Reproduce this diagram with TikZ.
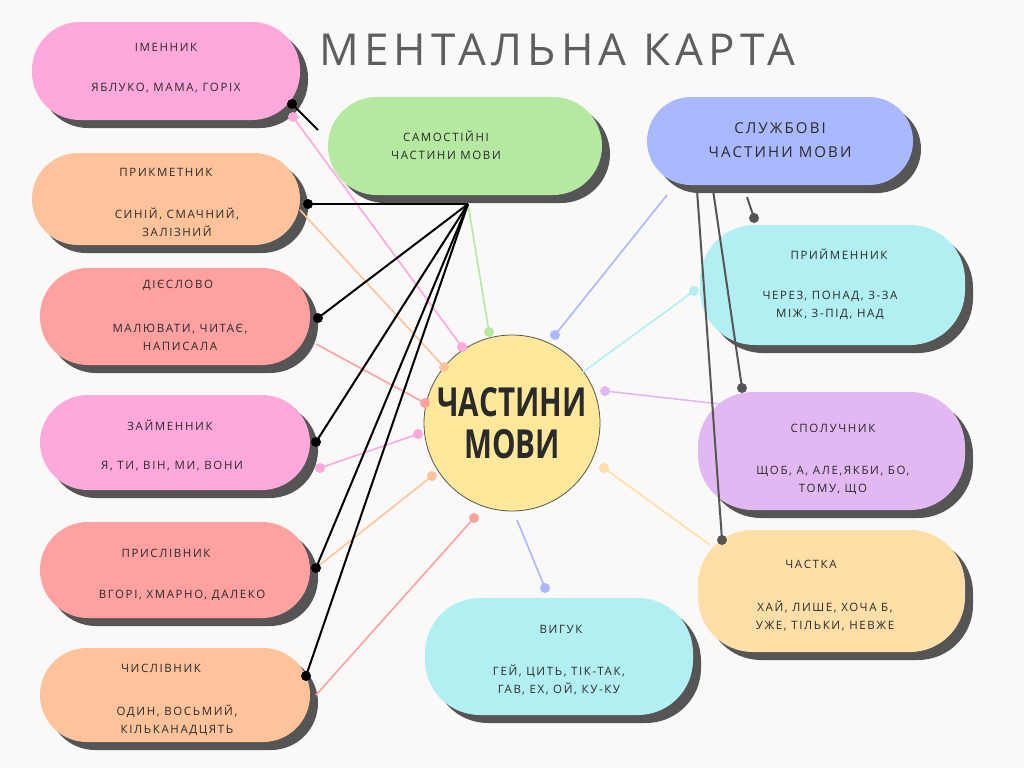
\documentclass[tikz,border=0pt]{standalone}
\usepackage{fontspec}
\setmainfont{Open Sans}
\newfontfamily\boxfnt{Open Sans}[LetterSpace=14]
\newfontfamily\ttl{Open Sans}[LetterSpace=12]
\usetikzlibrary{shadows}
\definecolor{bg}{HTML}{FAF9F8}
\definecolor{sh}{HTML}{555555}
\definecolor{cpink}{HTML}{FFA8DC}
\definecolor{cgreen}{HTML}{B5E8A0}
\definecolor{cblue}{HTML}{A9B8FF}
\definecolor{cpeach}{HTML}{FFC39C}
\definecolor{csalm}{HTML}{FFA1A1}
\definecolor{ccyan}{HTML}{B2EFF2}
\definecolor{clav}{HTML}{E2B8F2}
\definecolor{corng}{HTML}{FFDEA8}
\definecolor{cyel}{HTML}{FFE89A}
\definecolor{txt}{HTML}{2A2A2A}
\begin{document}
\begin{tikzpicture}[x=1pt,y=-1pt,
  pill/.style={draw=none,rounded corners=#1,drop shadow={shadow xshift=8pt,shadow yshift=-8pt,fill=sh,opacity=1}},
  lbl/.style={font=\boxfnt\fontsize{11.5}{18}\selectfont,text=txt,align=center},
  dotline/.style={line width=1.6pt}]
\fill[bg] (0,0) rectangle (1024,768);
\useasboundingbox (0,0) rectangle (1024,768);
\node[font=\ttl\fontsize{44}{50}\selectfont,text=sh!95] (title) at (557,50) {МЕНТАЛЬНА КАРТА};
% boxes
\fill[cpink,pill=48] (32,22) rectangle (300,120);
\fill[cgreen,pill=49] (328,97) rectangle (602,195);
\fill[cblue,pill=44] (647,97) rectangle (913,185);
\fill[cpeach,pill=46] (32,153) rectangle (300,245);
\fill[csalm,pill=48] (40,268) rectangle (310,365);
\fill[cpink,pill=48] (40,395) rectangle (310,490);
\fill[csalm,pill=48] (40,522) rectangle (310,618);
\fill[cpeach,pill=47] (40,648) rectangle (310,742);
\fill[ccyan,pill=55] (700,225) rectangle (965,345);
\fill[clav,pill=55] (698,392) rectangle (965,510);
\fill[corng,pill=55] (698,530) rectangle (965,652);
\fill[ccyan,pill=55] (425,598) rectangle (693,715);
% texts
\node[lbl] (t1) at (166,47) {ІМЕННИК};
\node[lbl] (t1b) at (166,88) {ЯБЛУКО, МАМА, ГОРІХ};
\node[lbl] (t2) at (446,145) {САМОСТІЙНІ\\ЧАСТИНИ МОВИ};
\node[lbl,font=\boxfnt\fontsize{15}{24}\selectfont] (t3) at (780,140) {СЛУЖБОВІ\\ЧАСТИНИ МОВИ};
\node[lbl] (t4) at (166,172) {ПРИКМЕТНИК};
\node[lbl] (t4b) at (177,222) {СИНІЙ, СМАЧНИЙ,\\ЗАЛІЗНИЙ};
\node[lbl] (t5) at (178,285) {ДІЄСЛОВО};
\node[lbl] (t5b) at (180,337) {МАЛЮВАТИ, ЧИТАЄ,\\НАПИСАЛА};
\node[lbl] (t6) at (170,425) {ЗАЙМЕННИК};
\node[lbl] (t6b) at (172,466) {Я, ТИ, ВІН, МИ, ВОНИ};
\node[lbl] (t7) at (166,553) {ПРИСЛІВНИК};
\node[lbl] (t7b) at (182,595) {ВГОРІ, ХМАРНО, ДАЛЕКО};
\node[lbl] (t8) at (161,668) {ЧИСЛІВНИК};
\node[lbl] (t8b) at (177,720) {ОДИН, ВОСЬМИЙ,\\КІЛЬКАНАДЦЯТЬ};
\node[lbl] (t9) at (839,254) {ПРИЙМЕННИК};
\node[lbl] (t9b) at (830,305) {ЧЕРЕЗ, ПОНАД, З-ЗА\\МІЖ, З-ПІД, НАД};
\node[lbl] (t10) at (833,428) {СПОЛУЧНИК};
\node[lbl] (t10b) at (833,480) {ЩОБ, А, АЛЕ,ЯКБИ, БО,\\ТОМУ, ЩО};
\node[lbl] (t11) at (811,564) {ЧАСТКА};
\node[lbl] (t11b) at (825,616) {ХАЙ, ЛИШЕ, ХОЧА Б,\\УЖЕ, ТІЛЬКИ, НЕВЖЕ};
\node[lbl] (t12) at (561,629) {ВИГУК};
\node[lbl] (t12b) at (559,680) {ГЕЙ, ЦИТЬ, ТІК-ТАК,\\ГАВ, ЕХ, ОЙ, КУ-КУ};
% center
\node[circle,fill=cyel,draw=sh,line width=0.8pt,minimum size=176pt,inner sep=0pt] (c) at (512,423) {};
\node[font=\bfseries\fontsize{40}{42}\selectfont,text=txt,align=center] (ct) at (512,423) {\scalebox{0.74}[1]{ЧАСТИНИ}\\\scalebox{0.74}[1]{МОВИ}};
% coordinates
\coordinate (hub) at (468,204);
\foreach \n/\x/\y in {b1/308/204,b2/318/318,b3/316/442,b4/316/568,b5/306/676,
  k1a/292/104,k1b/318/130,
  p1a/293/117,p1b/462/347, g1/489/332, a1/300/210,a1e/444/367,
  s1/316/344,s1e/425/403, p2a/320/468,p2b/418/434, a2e/432/476,
  s2a/316/695,s2e/474/518, u1a/667/195,u1b/555/335, y1a/583/372,y1b/694/291,
  l1a/605/391,l1b/720/404, o1a/604/468,o1b/710/545, v1a/517/520,v1b/545/588,
  d1a/697/190,d1b/722/540, d2a/713/190,d2b/742/388, d3a/747/197,d3b/754/218}
  {\coordinate (\n) at (\x,\y);}
% colored lines
\draw[cpink,dotline] (p1a) -- (p1b); \fill[cpink] (p1a) circle(5) (p1b) circle(5);
\draw[cgreen,dotline] (hub) -- (g1); \fill[cgreen] (g1) circle(5);
\draw[cpeach,dotline] (a1) -- (a1e); \fill[cpeach] (a1e) circle(5);
\draw[csalm,dotline] (s1) -- (s1e); \fill[csalm] (s1e) circle(5);
\draw[cpink,dotline] (p2a) -- (p2b); \fill[cpink] (p2a) circle(5) (p2b) circle(5);
\draw[cpeach,dotline] (b4) -- (a2e); \fill[cpeach] (a2e) circle(5);
\draw[csalm,dotline] (s2a) -- (s2e); \fill[csalm] (s2e) circle(5);
\draw[cblue,dotline] (u1a) -- (u1b); \fill[cblue] (u1b) circle(5);
\draw[ccyan,dotline] (y1a) -- (y1b); \fill[ccyan] (y1b) circle(5);
\draw[clav,dotline] (l1a) -- (l1b); \fill[clav] (l1a) circle(5);
\draw[corng,dotline] (o1a) -- (o1b); \fill[corng] (o1a) circle(5);
\draw[cblue,dotline] (v1a) -- (v1b); \fill[cblue] (v1b) circle(5);
% black
\foreach \e in {b1,b2,b3,b4,b5}{\draw[black,line width=2pt] (hub) -- (\e); \fill[black] (\e) circle(5);}
\draw[black,line width=2pt] (k1a) -- (k1b); \fill (k1a) circle(5);
% gray
\foreach \a/\b in {d1a/d1b,d2a/d2b,d3a/d3b}{\draw[sh,line width=2pt] (\a) -- (\b); \fill[sh] (\b) circle(5);}
\end{tikzpicture}
\end{document}
